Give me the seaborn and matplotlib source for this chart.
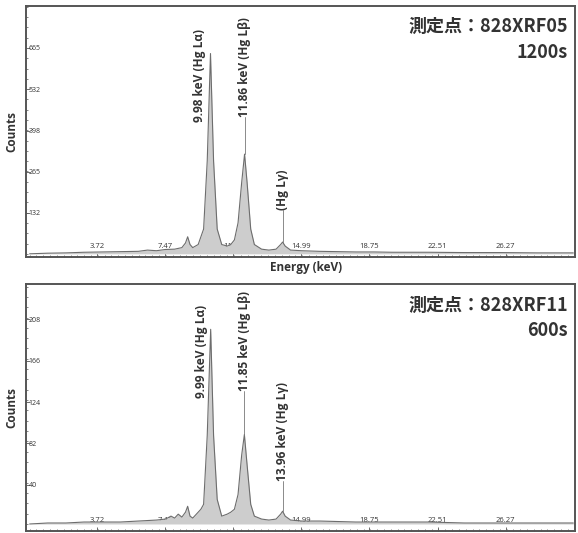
import numpy as np
import pandas as pd
import matplotlib
matplotlib.use("Agg")
import matplotlib.pyplot as plt
from matplotlib.ticker import FixedLocator, MultipleLocator
import seaborn as sns

# ---- data ----
energy_top = [0.0, 1.0, 2.0, 3.0, 4.0, 5.0, 6.0, 6.5, 7.0, 7.5, 8.0, 8.4, 8.6, 8.72, 8.85, 9.0,
              9.3, 9.6, 9.8, 9.98, 10.15, 10.35, 10.6, 10.9, 11.1, 11.3, 11.5, 11.7, 11.86, 12.0,
              12.2, 12.4, 12.8, 13.2, 13.6, 13.85, 13.96, 14.1, 14.4, 15.0, 16.0, 17.0, 18.0,
              19.0, 20.0, 22.0, 24.0, 26.0, 28.0, 30.0]
counts_top = [0, 2, 3, 5, 6, 7, 8, 12, 10, 14, 15, 20, 35, 55, 30, 20,
              30, 80, 300, 647, 300, 80, 30, 25, 30, 45, 100, 230, 322, 230,
              80, 30, 15, 12, 15, 30, 38, 25, 12, 10, 8, 7, 6,
              6, 5, 5, 4, 4, 3, 3]

energy_bot = [0.0, 1.0, 2.0, 3.0, 4.0, 5.0, 6.0, 7.0, 7.5, 7.8, 8.0, 8.2, 8.4, 8.6, 8.72, 8.85,
              9.0, 9.2, 9.45, 9.6, 9.8, 9.99, 10.15, 10.35, 10.6, 10.9, 11.1, 11.3, 11.5, 11.7,
              11.85, 12.0, 12.2, 12.4, 12.8, 13.2, 13.6, 13.85, 13.96, 14.1, 14.4, 15.0, 16.0,
              18.0, 20.0, 22.0, 24.0, 26.0, 28.0, 30.0]
counts_bot = [0, 1, 1, 2, 2, 2, 3, 4, 5, 8, 6, 10, 7, 12, 18, 8,
              6, 10, 15, 20, 90, 198, 90, 25, 8, 10, 12, 15, 30, 70,
              91, 60, 20, 8, 5, 4, 5, 10, 13, 8, 4, 3, 3,
              2, 2, 2, 1, 1, 1, 1]

x_ticks = [3.72, 7.47, 11.23, 14.99, 18.75, 22.51, 26.27]
x_tick_labels = ["3.72", "7.47", "11.23", "14.99", "18.75", "22.51", "26.27"]
y_ticks_top = [132, 265, 398, 532, 665]
y_ticks_bot = [40, 82, 124, 166, 208]

peaks_top = [9.98, 11.86, 13.96]
peak_counts_top = [647, 322, 38]
labels_top = ["9.98 keV (Hg Lα)", "11.86 keV (Hg Lβ)", "(Hg Lγ)"]
peaks_bot = [9.99, 11.85, 13.96]
peak_counts_bot = [198, 91, 13]
labels_bot = ["9.99 keV (Hg Lα)", "11.85 keV (Hg Lβ)", "13.96 keV (Hg Lγ)"]

titles = ["測定点：828XRF05", "測定点：828XRF11"]
times = ["1200s", "600s"]

sns.set_theme(style="white")
plt.rcParams["font.family"] = ["Open Sans", "DejaVu Sans"]

fig = plt.figure(figsize=(5.78, 5.33), dpi=100)
ax1 = fig.add_axes([0.045, 0.518, 0.950, 0.471])
ax2 = fig.add_axes([0.045, 0.004, 0.950, 0.463])

FILL = "#cdcdcd"
EDGE = "#6d6d6d"
TXT = "#333333"


def draw(ax, e, c, ylim, yticks, yminor, peaks, pcounts, labels, label_pos, title, tm, ty):
    df = pd.DataFrame({"energy": e, "counts": c})
    ax.fill_between(df["energy"], 0, df["counts"], color=FILL, lw=0)
    sns.lineplot(data=df, x="energy", y="counts", ax=ax, color=EDGE, lw=0.8)
    ax.set_xlim(-0.2, 30.1)
    ax.set_ylim(*ylim)
    for s in ax.spines.values():
        s.set_color("#555555")
        s.set_linewidth(1.4)
    # x ticks inside
    ax.xaxis.set_major_locator(FixedLocator(x_ticks))
    ax.set_xticklabels(x_tick_labels)
    ax.xaxis.set_minor_locator(MultipleLocator(0.376))
    ax.tick_params(axis="x", which="major", direction="in", length=3, width=0.6,
                   color="#555555", pad=-5, labelsize=5.5, labelcolor=TXT, bottom=True)
    ax.tick_params(axis="x", which="minor", direction="in", length=1.5, width=0.5,
                   color="#555555", bottom=True)
    for lbl in ax.get_xticklabels():
        lbl.set_va("bottom")
    # y ticks inside
    ax.yaxis.set_major_locator(FixedLocator(yticks))
    ax.set_yticklabels([str(v) for v in yticks])
    ax.yaxis.set_minor_locator(MultipleLocator(yminor))
    ax.tick_params(axis="y", which="major", direction="in", length=3, width=0.6,
                   color="#555555", pad=-2, labelsize=5, labelcolor=TXT, left=True)
    ax.tick_params(axis="y", which="minor", direction="in", length=1.5, width=0.5,
                   color="#555555", left=True)
    for lbl in ax.get_yticklabels():
        lbl.set_ha("left")
    ax.set_ylabel("Counts", fontsize=8.5, fontweight="bold", color=TXT, labelpad=2)
    ax.set_xlabel("")
    # peak annotations
    for px, pc, lab, (lx, ly, line) in zip(peaks, pcounts, labels, label_pos):
        ax.text(lx, ly, lab, rotation=90, ha="center", va="bottom", fontsize=8.6,
                fontweight="bold", color=TXT)
        if line:
            ax.plot([px, px], [pc, ly], color="#777777", lw=0.6)
    ax.text(0.987, ty[0], title, transform=ax.transAxes, ha="right", va="center",
            fontsize=13, fontweight="bold", color=TXT,
            family=["Noto Sans CJK JP", "DejaVu Sans"])
    ax.text(0.987, ty[1], tm, transform=ax.transAxes, ha="right", va="center",
            fontsize=13, fontweight="bold", color=TXT,
            family=["Noto Sans CJK JP", "DejaVu Sans"])


draw(ax1, energy_top, counts_top, (-10, 801), y_ticks_top, 33.25,
     peaks_top, peak_counts_top, labels_top,
     [(9.4, 427, False), (11.86, 443, True), (13.96, 141, True)],
     titles[0], times[0], (0.920, 0.815))
ax1.set_xlabel("Energy (keV)", fontsize=8.5, fontweight="bold", color=TXT)
ax1.xaxis.set_label_coords(0.51, -0.018)
ax1.xaxis.label.set_va("top")

draw(ax2, energy_bot, counts_bot, (-7, 244), y_ticks_bot, 10.5,
     peaks_bot, peak_counts_bot, labels_bot,
     [(9.5, 128, False), (11.85, 135, True), (13.96, 44, True)],
     titles[1], times[1], (0.912, 0.812))

fig.savefig("out.png", dpi=100, facecolor="white")
